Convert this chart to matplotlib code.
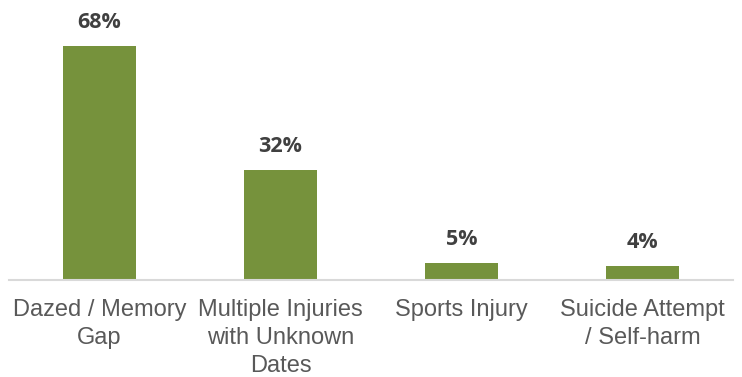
import matplotlib
matplotlib.use("Agg")
import matplotlib.pyplot as plt

categories = ["Dazed / Memory\nGap", "Multiple Injuries\nwith Unknown\nDates", "Sports Injury", "Suicide Attempt\n/ Self-harm"]
values = [68, 32, 5, 4]
value_labels = ["68%", "32%", "5%", "4%"]

fig = plt.figure(figsize=(7.42, 3.77), dpi=100)
ax = fig.add_axes([9/742, 97/377, 724/742, 280/377])

x = range(len(categories))
bars = ax.bar(x, values, width=0.4, color="#76923C", zorder=2)
ax.set_xlim(-0.5, 3.5)
ax.set_ylim(0, 81.4)

for b, lab in zip(bars, value_labels):
    ax.annotate(lab, (b.get_x() + b.get_width()/2, b.get_height()),
                xytext=(0, 13), textcoords="offset points", ha="center", va="baseline",
                fontsize=15.5, fontweight="bold", family="Open Sans", color="#404040")

ax.set_xticks(list(x))
ax.set_xticklabels(categories, fontsize=17, family="Liberation Sans", color="#595959", linespacing=1.33)
ax.tick_params(axis="x", length=0, pad=14)
ax.set_yticks([])
for s in ["top", "right", "left"]:
    ax.spines[s].set_visible(False)
ax.spines["bottom"].set_color("#D9D9D9")
ax.spines["bottom"].set_linewidth(1.5)
ax.patch.set_visible(False)

fig.savefig("out.png", dpi=100)
